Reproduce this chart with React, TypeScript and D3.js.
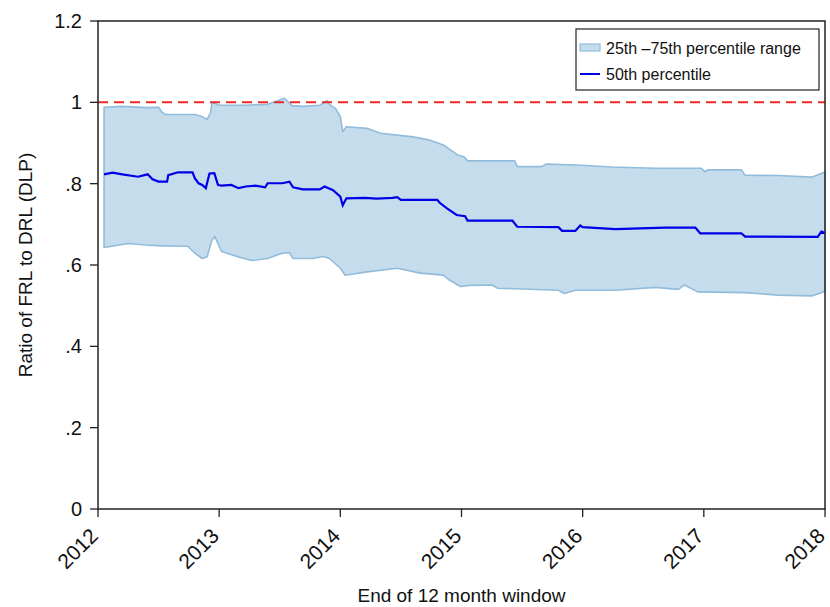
import React from "react";
import * as d3 from "d3";

// [decimal year, ratio]
const p75Points: [number, number][] = [
  [2012.05, 0.988], [2012.2, 0.99], [2012.4, 0.987], [2012.5, 0.988], [2012.53, 0.975],
  [2012.56, 0.97], [2012.8, 0.97], [2012.86, 0.965], [2012.9, 0.958], [2012.93, 0.975],
  [2012.94, 1.0], [2013.0, 0.993], [2013.2, 0.993], [2013.4, 0.995], [2013.54, 1.01],
  [2013.6, 0.992], [2013.69, 0.99], [2013.83, 0.993], [2013.89, 1.004], [2013.91, 0.995],
  [2013.96, 0.985], [2014.0, 0.965], [2014.02, 0.928], [2014.05, 0.94], [2014.22, 0.936],
  [2014.33, 0.924], [2014.45, 0.92], [2014.6, 0.915], [2014.74, 0.907], [2014.85, 0.895],
  [2014.93, 0.879], [2014.97, 0.87], [2015.02, 0.866], [2015.05, 0.856], [2015.44, 0.856],
  [2015.46, 0.842], [2015.66, 0.842], [2015.7, 0.848], [2015.95, 0.846], [2016.24, 0.841],
  [2016.6, 0.838], [2016.98, 0.838], [2017.01, 0.829], [2017.03, 0.834], [2017.31, 0.834],
  [2017.34, 0.821], [2017.61, 0.82], [2017.89, 0.816], [2017.97, 0.825], [2018.0, 0.829],
];

const p50Points: [number, number][] = [
  [2012.05, 0.823], [2012.12, 0.827], [2012.2, 0.823], [2012.33, 0.817], [2012.41, 0.823],
  [2012.45, 0.811], [2012.5, 0.805], [2012.57, 0.805], [2012.58, 0.821], [2012.66, 0.828],
  [2012.78, 0.828], [2012.8, 0.813], [2012.83, 0.801], [2012.86, 0.797], [2012.89, 0.789],
  [2012.92, 0.825], [2012.96, 0.826], [2012.99, 0.797], [2013.02, 0.795], [2013.1, 0.797],
  [2013.16, 0.789], [2013.22, 0.793], [2013.3, 0.795], [2013.38, 0.791], [2013.4, 0.801],
  [2013.52, 0.801], [2013.58, 0.805], [2013.61, 0.791], [2013.69, 0.786], [2013.83, 0.786],
  [2013.87, 0.793], [2013.94, 0.784], [2014.0, 0.768], [2014.02, 0.747], [2014.05, 0.764],
  [2014.2, 0.765], [2014.3, 0.763], [2014.43, 0.765], [2014.47, 0.767], [2014.5, 0.76],
  [2014.8, 0.76], [2014.82, 0.753], [2014.88, 0.739], [2014.96, 0.723], [2015.03, 0.72],
  [2015.05, 0.709], [2015.42, 0.709], [2015.46, 0.694], [2015.8, 0.693], [2015.83, 0.684],
  [2015.94, 0.684], [2015.98, 0.697], [2016.0, 0.693], [2016.27, 0.688], [2016.68, 0.692],
  [2016.93, 0.692], [2016.97, 0.678], [2017.31, 0.678], [2017.34, 0.67], [2017.94, 0.669],
  [2017.97, 0.682], [2018.0, 0.679],
];

const p25Points: [number, number][] = [
  [2012.05, 0.643], [2012.25, 0.653], [2012.39, 0.649], [2012.53, 0.647], [2012.74, 0.646],
  [2012.8, 0.629], [2012.86, 0.616], [2012.9, 0.62], [2012.94, 0.661], [2012.965, 0.67],
  [2013.0, 0.646], [2013.02, 0.633], [2013.16, 0.62], [2013.27, 0.611], [2013.4, 0.616],
  [2013.52, 0.629], [2013.58, 0.63], [2013.61, 0.616], [2013.77, 0.616], [2013.86, 0.621],
  [2013.91, 0.616], [2014.0, 0.592], [2014.04, 0.575], [2014.22, 0.583], [2014.47, 0.592],
  [2014.66, 0.58], [2014.85, 0.575], [2014.9, 0.563], [2014.99, 0.547], [2015.07, 0.55],
  [2015.25, 0.551], [2015.3, 0.543], [2015.8, 0.538], [2015.85, 0.53], [2015.94, 0.538],
  [2016.27, 0.538], [2016.6, 0.545], [2016.79, 0.54], [2016.84, 0.551], [2016.95, 0.534],
  [2017.34, 0.532], [2017.61, 0.526], [2017.89, 0.524], [2017.97, 0.532], [2018.0, 0.536],
];

const yearTicks = [2012, 2013, 2014, 2015, 2016, 2017, 2018];
const ratioTicks = [0, 0.2, 0.4, 0.6, 0.8, 1, 1.2];
const ratioLabels = ["0", ".2", ".4", ".6", ".8", "1", "1.2"];
const referenceLevel = 1;

const font = "'Liberation Sans', Arial, sans-serif";

export default function App() {
  const width = 830;
  const height = 607;
  const margin = { left: 98, right: 5, top: 21, bottom: 98 };

  const x = d3.scaleLinear().domain([2012, 2018]).range([margin.left, width - margin.right]);
  const y = d3.scaleLinear().domain([0, 1.2]).range([height - margin.bottom, margin.top]);

  // band from p25 up to p75: join the two edges into one polygon
  const bandPts = [...p75Points, ...[...p25Points].reverse()];
  const band = d3.line<[number, number]>().x((d) => x(d[0])).y((d) => y(d[1]))(bandPts) + "Z";
  const line = d3.line<[number, number]>().x((d) => x(d[0])).y((d) => y(d[1]));

  const bottom = y(0);
  const top = y(1.2);
  const left = x(2012);
  const right = x(2018);

  return (
    <svg width={width} height={height} style={{ position: "absolute", left: 0, top: 0 }} fontFamily={font}>
      <rect width={width} height={height} fill="#fff" />
      <path d={band} fill="#c5dced" stroke="#92bcdb" strokeWidth={1.6} strokeLinejoin="round" />
      <path d={line(p50Points) || ""} fill="none" stroke="#0000e6" strokeWidth={2.2} />
      <line x1={left} x2={right} y1={y(referenceLevel)} y2={y(referenceLevel)}
        stroke="#ec2a2a" strokeWidth={2} strokeDasharray="10,6" />

      {/* frame */}
      <rect x={left} y={top} width={right - left} height={bottom - top} fill="none" stroke="#222" strokeWidth={1.5} />

      {/* y axis */}
      {ratioTicks.map((t, i) => (
        <g key={t}>
          <line x1={left - 8} x2={left} y1={y(t)} y2={y(t)} stroke="#222" strokeWidth={1.3} />
          <text x={left - 16} y={y(t)} dy="0.35em" textAnchor="end" fontSize={20} fill="#111">
            {ratioLabels[i]}
          </text>
        </g>
      ))}
      <text transform={`translate(32,${(top + bottom) / 2}) rotate(-90)`} textAnchor="middle" fontSize={19} fill="#111">
        Ratio of FRL to DRL (DLP)
      </text>

      {/* x axis */}
      {yearTicks.map((t) => (
        <g key={t}>
          <line x1={x(t)} x2={x(t)} y1={bottom} y2={bottom + 8} stroke="#222" strokeWidth={1.3} />
          <text transform={`translate(${x(t) - 4},${bottom + 23}) rotate(-45)`} textAnchor="end"
            dy="0.35em" fontSize={21} fill="#111">
            {t}
          </text>
        </g>
      ))}
      <text x={(left + right) / 2} y={602} textAnchor="middle" fontSize={19} fill="#111">
        End of 12 month window
      </text>

      {/* legend */}
      <g>
        <rect x={576} y={29} width={243} height={61} fill="#fff" stroke="#333" strokeWidth={1.3} />
        <rect x={580} y={44} width={20} height={7} fill="#c5dced" stroke="#92bcdb" strokeWidth={1.2} />
        <text x={606} y={54} fontSize={16} fill="#111">25th –75th percentile range</text>
        <line x1={580} x2={600} y1={74} y2={74} stroke="#0000e6" strokeWidth={2} />
        <text x={606} y={80} fontSize={16} fill="#111">50th percentile</text>
      </g>
    </svg>
  );
}
